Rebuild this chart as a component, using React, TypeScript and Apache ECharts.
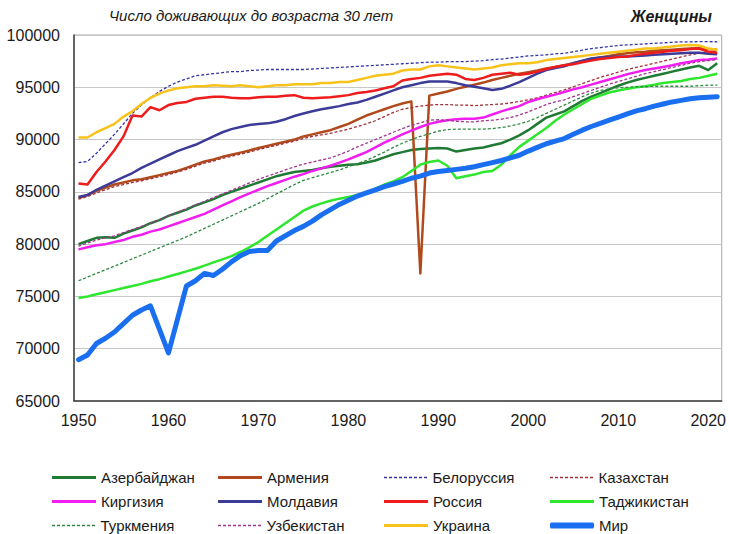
import { useEffect, useRef } from "react";
import * as echarts from "echarts";

const years: string[] = Array.from({ length: 72 }, (_, i) => String(1950 + i));

const azerbaijan = [
  80000, 80300, 80600, 80650, 80600, 81000, 81300, 81600, 82000, 82300,
  82700, 83000, 83300, 83700, 84000, 84300, 84700, 85000, 85300, 85600,
  85900, 86200, 86500, 86700, 86900, 87000, 87100, 87250, 87400, 87500,
  87600, 87650, 87800, 88000, 88300, 88600, 88800, 89000, 89100, 89150,
  89200, 89150, 88850, 89000, 89150, 89250, 89450, 89650, 90000, 90400,
  90900, 91500, 92100, 92400, 92700, 93200, 93700, 94100, 94450, 94800,
  95150, 95450, 95700, 95900, 96100, 96300, 96500, 96700, 96900, 97050,
  96650, 97300,
];
const armenia = [
  84400, 84700, 85100, 85400, 85700, 85900, 86100, 86200, 86400, 86600,
  86800, 87000, 87300, 87600, 87900, 88100, 88350, 88550, 88750, 88950,
  89200, 89400, 89600, 89800, 90000, 90300, 90500, 90700, 90900, 91200,
  91500, 91900, 92300, 92600, 92900, 93200, 93450, 93650, 77200, 94200,
  94400, 94600, 94850, 95050, 95250, 95450, 95700, 95900, 96100, 96300,
  96450, 96600, 96800, 96950, 97100, 97300, 97500, 97700, 97850, 98000,
  98150, 98250, 98350, 98400, 98500, 98550, 98600, 98650, 98700, 98750,
  98650, 98600,
];
const belarus = [
  87800, 87900, 88700, 89600, 90500, 91500, 92500, 93300, 94000, 94600,
  95100, 95500, 95800, 96100, 96200, 96300, 96400, 96500, 96500, 96600,
  96650, 96700, 96700, 96700, 96700, 96700, 96750, 96800, 96850, 96900,
  96950, 97000, 97050, 97100, 97150, 97200, 97250, 97300, 97350, 97400,
  97400, 97450, 97450, 97450, 97500, 97550, 97650, 97700, 97800, 97900,
  98000, 98050, 98100, 98200, 98250, 98400, 98550, 98700, 98800, 98900,
  99000, 99050, 99100, 99150, 99200, 99250, 99300, 99350, 99350, 99360,
  99360, 99350,
];
const kazakhstan = [
  84300, 84550, 84900, 85200, 85500, 85700, 85900, 86050, 86250, 86450,
  86650, 86900, 87150, 87450, 87750, 87950, 88200, 88400, 88600, 88800,
  89050, 89250, 89450, 89650, 89850, 90100, 90300, 90450, 90600, 90800,
  91000, 91250, 91500, 91800, 92200, 92600, 92900, 93050, 93200, 93300,
  93350, 93350, 93300, 93300, 93250, 93300, 93350, 93400, 93500, 93650,
  93800, 94000, 94250, 94500, 94750, 95050, 95350, 95650, 95950, 96200,
  96450, 96700, 96900, 97100, 97300, 97500, 97700, 97900, 98100, 98250,
  98350, 98400,
];
const kyrgyzstan = [
  79500, 79700, 79900, 80000, 80200, 80400, 80700, 80900, 81200, 81400,
  81700, 82000, 82300, 82600, 82900, 83300, 83700, 84100, 84500, 84850,
  85200, 85550, 85850, 86150, 86450, 86700, 87000, 87250, 87500, 87800,
  88100, 88450, 88800, 89250, 89700, 90100, 90500, 90850, 91200, 91500,
  91700, 91850, 91950, 92000, 92000, 92100, 92400, 92700, 92950, 93200,
  93600, 93850, 94100, 94300, 94550, 94800, 95000, 95250, 95500, 95750,
  96000, 96250, 96450, 96650, 96800, 96950, 97100, 97300, 97450, 97600,
  97650, 97750,
];
const moldova = [
  84500, 84700, 85200, 85600, 86000, 86400, 86800, 87300, 87700, 88100,
  88500, 88900, 89200, 89500, 89900, 90300, 90700, 91000, 91200, 91400,
  91500, 91550, 91700, 91950, 92250, 92500, 92700, 92900, 93050, 93200,
  93400, 93550, 93800, 94100, 94400, 94700, 95000, 95200, 95400, 95550,
  95550, 95550, 95400, 95200, 95050, 94900, 94750, 94850, 95150, 95500,
  95900, 96300, 96650, 96850, 97000, 97300, 97550, 97750, 97850, 97900,
  97950, 97950, 98000, 98050, 98100, 98150, 98200, 98250, 98300, 98300,
  98200, 98150,
];
const russia = [
  85800, 85700, 86900, 87900, 89000, 90300, 92300, 92200, 93100, 92800,
  93300, 93500, 93600, 93900, 94000, 94100, 94100, 94000, 93950, 93950,
  94050, 94100, 94100, 94200, 94250, 94000, 93950, 94000, 94050, 94150,
  94250, 94450, 94550, 94700, 94900, 95100, 95650, 95800, 95900, 96100,
  96200, 96300, 96200, 95800, 95700, 95900, 96200, 96300, 96400, 96200,
  96300, 96500, 96750, 96950, 97100, 97200, 97400, 97550, 97700, 97800,
  97900, 97950, 98100, 98200, 98300, 98400, 98500, 98550, 98650, 98700,
  98400, 98300,
];
const tajikistan = [
  74850, 75000, 75200, 75400, 75600, 75800, 76000, 76200, 76450, 76650,
  76900, 77150, 77400, 77650, 77950, 78250, 78550, 78850, 79250, 79700,
  80200, 80800, 81400, 82000, 82600, 83200, 83600, 83900, 84150, 84350,
  84500, 84700, 84900, 85300, 85700, 86000, 86400, 87000, 87600, 87850,
  88000, 87500, 86300, 86500, 86650, 86900, 87000, 87600, 88500, 89300,
  89900, 90500, 91100, 91800, 92400, 92900, 93400, 93900, 94200, 94500,
  94700, 94850, 95000, 95100, 95250, 95400, 95500, 95600, 95800, 95900,
  96100, 96300,
];
const turkmenistan = [
  76500, 76850, 77200, 77550, 77900, 78250, 78600, 78950, 79300, 79650,
  80000, 80350, 80700, 81100, 81500, 81900, 82300, 82700, 83100, 83500,
  83900, 84350, 84800, 85250, 85700, 86100, 86350, 86600, 86850, 87100,
  87400, 87700, 88000, 88400, 88800, 89250, 89650, 90000, 90300, 90550,
  90800, 90950, 91000, 91000, 91000, 91000, 91050, 91150, 91300, 91500,
  91750, 92100, 92500, 92900, 93300, 93700, 94100, 94450, 94700, 94850,
  94950, 95000, 95050, 95050, 95100, 95100, 95100, 95100, 95100, 95150,
  95200, 95200,
];
const uzbekistan = [
  79800, 80100, 80400, 80600, 80800, 81100, 81400, 81700, 82000, 82350,
  82700, 83050, 83400, 83750, 84100, 84450, 84800, 85150, 85500, 85850,
  86200, 86500, 86800, 87100, 87400, 87650, 87850, 88050, 88250, 88550,
  88900, 89300, 89650, 90000, 90350, 90700, 91050, 91350, 91600, 91850,
  91900, 91850, 91750, 91700, 91700, 91800, 91850, 91950, 92100, 92350,
  92650, 93000, 93350, 93600, 93800, 94100, 94400, 94700, 95000, 95300,
  95550, 95800, 96050, 96300, 96500, 96700, 96900, 97100, 97300, 97450,
  97550, 97650,
];
const ukraine = [
  90200, 90200, 90700, 91100, 91500, 92200, 92700, 93400, 94000, 94400,
  94700, 94900, 95000, 95100, 95100, 95200, 95150, 95100, 95200, 95100,
  95000, 95100, 95200, 95200, 95300, 95300, 95300, 95400, 95400, 95500,
  95500, 95700, 95900, 96100, 96200, 96300, 96600, 96700, 96700, 97000,
  97100, 97000, 96900, 96800, 96700, 96800, 96900, 97100, 97200, 97300,
  97300, 97400, 97600, 97700, 97800, 97900, 98000, 98100, 98200, 98300,
  98400, 98500, 98600, 98700, 98700, 98800, 98900, 99000, 99050, 99000,
  98700, 98600,
];
const world = [
  68950, 69400, 70500, 71000, 71600, 72400, 73200, 73700, 74100, 71850,
  69600, 72800, 76000, 76500, 77200, 77000, 77600, 78300, 78900, 79300,
  79400, 79400, 80300, 80800, 81300, 81700, 82200, 82800, 83300, 83800,
  84200, 84600, 84900, 85200, 85500, 85750, 86000, 86300, 86500, 86800,
  86950, 87050, 87150, 87250, 87400, 87600, 87800, 88000, 88250, 88500,
  88900, 89250, 89600, 89850, 90100, 90500, 90900, 91250, 91550, 91850,
  92150, 92450, 92750, 92950, 93200, 93400, 93600, 93750, 93900, 94000,
  94050, 94100,
];

const titleText = "Число доживающих до возраста 30 лет";
const subtitleText = "Женщины";

type Kind = "solid" | "dash" | "thick";
const seriesDefs: { name: string; data: number[]; color: string; kind: Kind }[] = [
  { name: "Азербайджан", data: azerbaijan, color: "#1f7a34", kind: "solid" },
  { name: "Армения", data: armenia, color: "#b04a1c", kind: "solid" },
  { name: "Белоруссия", data: belarus, color: "#3535a8", kind: "dash" },
  { name: "Казахстан", data: kazakhstan, color: "#a3303a", kind: "dash" },
  { name: "Киргизия", data: kyrgyzstan, color: "#f01ef0", kind: "solid" },
  { name: "Молдавия", data: moldova, color: "#3c3c98", kind: "solid" },
  { name: "Россия", data: russia, color: "#ee1c1c", kind: "solid" },
  { name: "Таджикистан", data: tajikistan, color: "#2ee62e", kind: "solid" },
  { name: "Туркмения", data: turkmenistan, color: "#2e8a40", kind: "dash" },
  { name: "Узбекистан", data: uzbekistan, color: "#a0348e", kind: "dash" },
  { name: "Украина", data: ukraine, color: "#f7c31a", kind: "solid" },
  { name: "Мир", data: world, color: "#1a6ef0", kind: "thick" },
];

const FONT = "'Liberation Sans', Arial, sans-serif";
const dashIcon =
  "path://M0 0h3v1.5h-3z M5 0h3v1.5h-3z M10 0h3v1.5h-3z M15 0h3v1.5h-3z M20 0h3v1.5h-3z M25 0h3v1.5h-3z M30 0h3v1.5h-3z M35 0h3v1.5h-3z M40 0h3v1.5h-3z";

export default function App() {
  const ref = useRef<HTMLDivElement>(null);
  useEffect(() => {
    if (!ref.current) return;
    const chart = echarts.init(ref.current, undefined, { renderer: "svg" });
    const rowCenters = [479, 503, 527];
    const colLefts = [52, 218, 384, 550];
    const legends = seriesDefs.map((s, i) => {
      const row = Math.floor(i / 4);
      const col = i % 4;
      const h = s.kind === "thick" ? 6 : s.kind === "dash" ? 1.5 : 3;
      return {
        left: colLefts[col],
        top: rowCenters[row] - 9,
        padding: 0,
        itemWidth: 44,
        itemHeight: h,
        itemGap: 0,
        selectedMode: false,
        icon: s.kind === "dash" ? dashIcon : s.kind === "thick" ? "roundRect" : "rect",
        itemStyle: { borderWidth: 0 },
        textStyle: { fontFamily: FONT, fontSize: 15, color: "#1a1a1a" },
        data: [{ name: s.name }],
      };
    });
    chart.setOption({
      animation: false,
      backgroundColor: "#ffffff",
      title: [
        {
          text: titleText,
          left: 109,
          top: 8,
          padding: 0,
          textStyle: { fontFamily: FONT, fontSize: 15, fontStyle: "italic", fontWeight: "normal", color: "#1a1a1a" },
        },
        {
          text: subtitleText,
          right: 17,
          top: 8,
          padding: 0,
          textStyle: { fontFamily: FONT, fontSize: 16, fontStyle: "italic", fontWeight: "bold", color: "#1a1a1a" },
        },
      ],
      legend: legends,
      grid: {
        left: 74,
        right: 5,
        top: 35,
        bottom: 133,
        show: true,
        borderColor: "#a6a6a6",
        borderWidth: 1,
        backgroundColor: "transparent",
      },
      xAxis: {
        type: "category",
        data: years,
        boundaryGap: true,
        axisLine: { show: true, lineStyle: { color: "#404040", width: 1.5 } },
        axisTick: { show: false },
        axisLabel: {
          interval: (index: number) => index % 10 === 0,
          fontFamily: FONT,
          fontSize: 16,
          color: "#1a1a1a",
          margin: 11,
        },
        splitLine: { show: false },
      },
      yAxis: {
        type: "value",
        min: 65000,
        max: 100000,
        interval: 5000,
        axisLine: { show: true, lineStyle: { color: "#404040", width: 1.5 } },
        axisTick: { show: false },
        axisLabel: {
          fontFamily: FONT,
          fontSize: 16,
          color: "#1a1a1a",
          margin: 14,
          formatter: (v: number) => String(v),
        },
        splitLine: { show: true, lineStyle: { color: "#c8c8c8", width: 1 } },
      },
      series: seriesDefs.map((s) => ({
        name: s.name,
        type: "line",
        data: s.data,
        symbol: "none",
        smooth: false,
        color: s.color,
        lineStyle: {
          color: s.color,
          width: s.kind === "thick" ? 5 : s.kind === "dash" ? 1.3 : 2.5,
          type: s.kind === "dash" ? [3, 2] : "solid",
          cap: s.kind === "thick" ? "round" : "butt",
          join: "round",
        },
        emphasis: { disabled: true },
      })),
    });
    return () => chart.dispose();
  }, []);
  return (
    <div
      ref={ref}
      style={{ position: "fixed", left: 0, top: 0, width: 729, height: 534, background: "#fff" }}
    />
  );
}
